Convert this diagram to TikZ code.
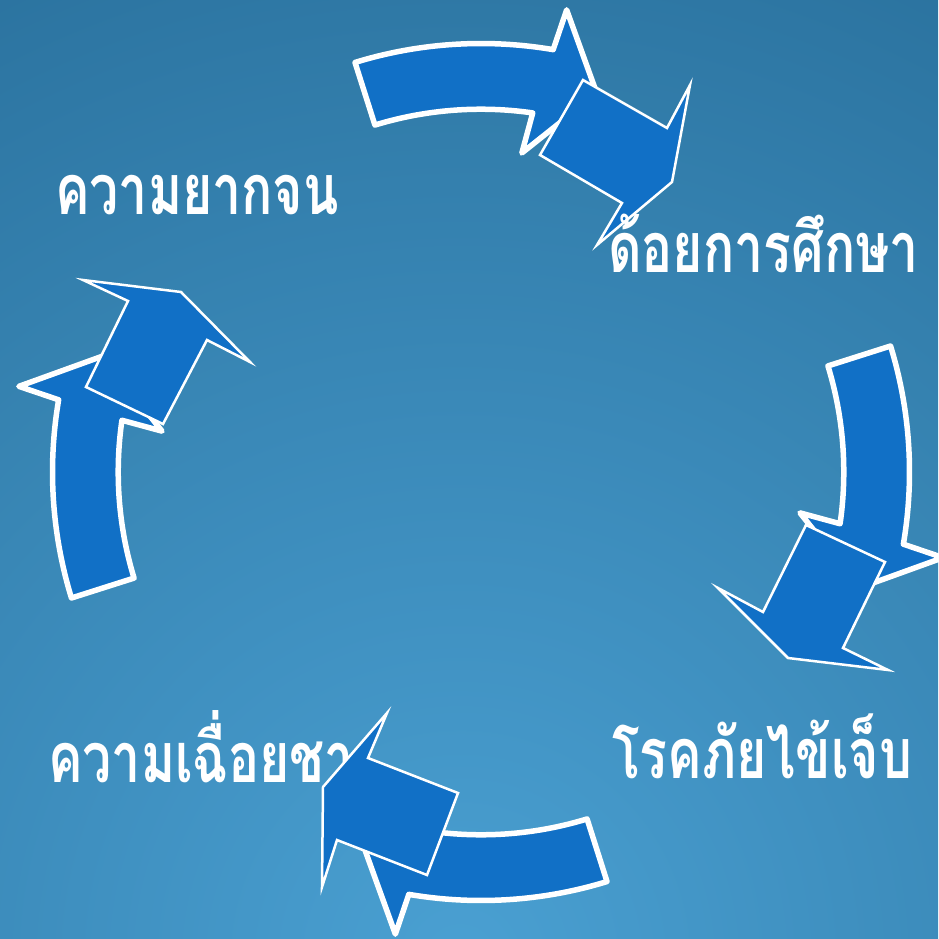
\documentclass[tikz,border=0pt]{standalone}
\usepackage{fontspec}
\newfontfamily\thaifont[Script=Thai]{Loma}
\usetikzlibrary{positioning}
\definecolor{bgdark}{RGB}{30,96,138}
\definecolor{bglight}{RGB}{74,160,210}
\definecolor{arrowblue}{RGB}{17,112,198}

\begin{document}
\begin{tikzpicture}[x=1pt,y=1pt,
  shaft/.style={fill=arrowblue,draw=white,line width=5.5pt,line join=round},
  headbox/.style={fill=arrowblue,draw=white,line width=2.5pt},
  every node/.style={text=white,inner sep=0pt,anchor=base west,xscale=0.74,
    font=\thaifont\bfseries\fontsize{70}{84}\selectfont}]
  \useasboundingbox (0,0) rectangle (938,-939);
  \begin{scope}
    \clip (0,0) rectangle (938,-939);
    \shade[inner color=bglight,outer color=bgdark] (460,-960) circle (1550);
  \end{scope}

  \node (poor) at (55,-214) {ความยากจน};
  \node (ill) at (612,-778) {โรคภัยไข้เจ็บ};
  \node (lazy) at (48,-782) {ความเฉื่อยชา};

  \foreach \r in {0,-90,-180,-270}
    \draw[shaft,shift={(481,-472)},rotate=\r]
      (107.1:428.5) arc[start angle=107.1,end angle=80.3,radius=428.5]
      -- (79.5:470) -- (73:396) -- (82.7:321.6) -- (81.8:362.8)
      arc[start angle=81.8,end angle=107,radius=362.8] -- cycle;

  \draw[headbox] (622,-203) -- (540,-155) -- (583,-80) -- (667,-128)
    -- (690,-85) -- (672,-182) -- (597,-245) -- cycle;
  \draw[headbox] (763,-612) -- (806,-525) -- (885,-562) -- (843,-648)
    -- (888,-670) -- (788,-658) -- (718,-588) -- cycle;
  \draw[headbox] (387,-713) -- (368,-758) -- (458,-793) -- (427,-875)
    -- (337,-840) -- (322,-887) -- (323,-787) -- cycle;
  \draw[headbox] (83,-280) -- (181,-292) -- (250,-362) -- (207,-340)
    -- (163,-424) -- (86,-387) -- (128,-301) -- cycle;

  \node (edu) at (608,-272) {ด้อยการศึกษา};
\end{tikzpicture}
\end{document}
